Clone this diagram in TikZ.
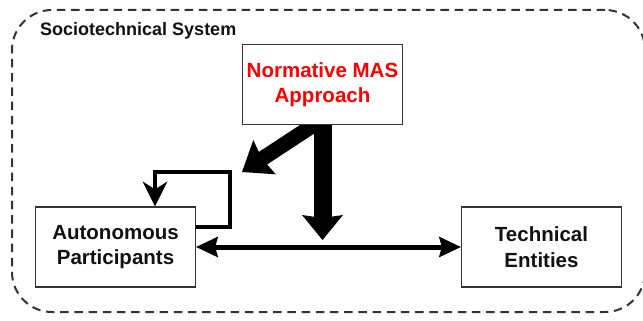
\documentclass[tikz,border=0pt]{standalone}
\usepackage{fontspec}
\setmainfont{Liberation Sans}
\usetikzlibrary{arrows.meta,backgrounds}
\definecolor{frame}{HTML}{333333}
\definecolor{ink}{HTML}{111111}
\begin{document}
\begin{tikzpicture}[x=1pt,y=-1pt,
  box/.style={draw=frame,line width=1.3pt,fill=white,
    minimum width=160pt,minimum height=80pt,inner sep=0pt,
    align=center,text=ink,font=\fontsize{20.5}{25.5}\selectfont\bfseries},
  flow/.style={draw=black,line join=miter},
  bighead/.style={-{Stealth[length=#1,width=41pt,inset=3pt,line width=0pt]}},
  smallhead/.tip={Stealth[length=22pt,width=21pt,inset=3pt,line width=0pt]},
  loophead/.style={-{Stealth[length=25pt,width=25pt,inset=8pt,line width=0pt]}}]
\useasboundingbox (0,0) rectangle (643,321);

% system boundary
\node[draw=frame,line width=2pt,dash pattern=on 8.5pt off 5.7pt,
  rounded corners=40pt,minimum width=633pt,minimum height=302pt,inner sep=0pt]
  (sys) at (328.5,161) {};
\node[anchor=base west,inner sep=0pt,text=ink,
  font=\fontsize{18}{22}\selectfont\bfseries] (title) at (40,35.5)
  {Sociotechnical System};

% components
\node[box,text=red] (N) at (322.5,84.5) {Normative MAS\\Approach};
\node[box] (A) at (115.5,247) {Autonomous\\Participants};
\node[box] (T) at (541.5,247) {Technical\\Entities};

\coordinate (diagtip) at (242,172);
\coordinate (vtip) at (322.5,240);
\coordinate (loop) at (230,172);

\begin{pgfonlayer}{background}
  % influence of the normative approach
  \draw[flow,line width=18pt,bighead=25pt] ([yshift=6pt]N.south) -- (vtip);
  \draw[flow,line width=15pt,bighead=27pt] ([yshift=6pt]N.south) -- (diagtip);
  % interactions
  \draw[flow,line width=5pt,smallhead-smallhead] (A.east) -- (T.west);
  \draw[flow,line width=4.5pt,loophead]
    ([yshift=20pt]A.east) -| (loop) -| ([xshift=39.5pt]A.north);
\end{pgfonlayer}
\end{tikzpicture}
\end{document}
